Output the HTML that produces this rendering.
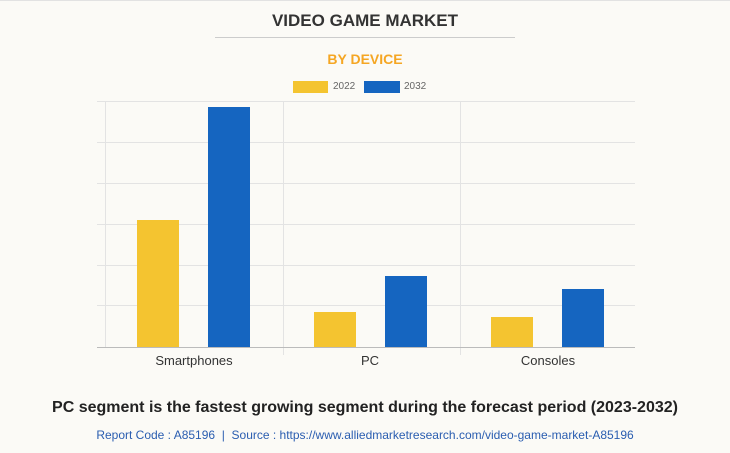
<!DOCTYPE html>
<html><head><style>
body{margin:0;width:730px;height:453px;background:#fbfaf6;font-family:"Liberation Sans",sans-serif;position:relative;overflow:hidden}
.t{position:absolute;left:0;width:730px;text-align:center}
</style></head><body>
<div style="position:absolute;left:0;top:0;width:730px;height:1px;background:#e2e2e2"></div>
<div class="t" style="top:11px;font-size:17px;font-weight:bold;color:#333">VIDEO GAME MARKET</div>
<div style="position:absolute;left:215px;top:37px;width:300px;height:1px;background:#ccc"></div>
<div class="t" style="top:51px;font-size:14px;font-weight:bold;color:#f5a623">BY DEVICE</div>
<div style="position:absolute;left:293px;top:81px;width:35px;height:12px;background:#f4c430"></div>
<div style="position:absolute;left:333px;top:81px;font-size:10px;color:#666">2022</div>
<div style="position:absolute;left:364px;top:81px;width:36px;height:12px;background:#1565c0"></div>
<div style="position:absolute;left:404px;top:81px;font-size:10px;color:#666">2032</div>
<svg style="position:absolute;left:0;top:0" width="730" height="453">
<g stroke="#e3e3e3" stroke-width="1">
<line x1="97" x2="635" y1="101.5" y2="101.5"/><line x1="97" x2="635" y1="142.5" y2="142.5"/>
<line x1="97" x2="635" y1="183.5" y2="183.5"/><line x1="97" x2="635" y1="224.5" y2="224.5"/>
<line x1="97" x2="635" y1="265.5" y2="265.5"/><line x1="97" x2="635" y1="305.5" y2="305.5"/>
<line x1="105.5" x2="105.5" y1="101" y2="347"/><line x1="283.5" x2="283.5" y1="101" y2="355"/>
<line x1="460.5" x2="460.5" y1="101" y2="355"/>
</g>
<rect x="137" y="220" width="42" height="127" fill="#f4c430"/>
<rect x="208" y="107" width="42" height="240" fill="#1565c0"/>
<rect x="314" y="312" width="42" height="35" fill="#f4c430"/>
<rect x="385" y="276" width="42" height="71" fill="#1565c0"/>
<rect x="491" y="317" width="42" height="30" fill="#f4c430"/>
<rect x="562" y="289" width="42" height="58" fill="#1565c0"/>
<line x1="97" x2="635" y1="347.5" y2="347.5" stroke="#bbb"/>
<g font-size="13" fill="#333" text-anchor="middle" font-family="Liberation Sans,sans-serif">
<text x="194" y="365">Smartphones</text><text x="370" y="365">PC</text><text x="548" y="365">Consoles</text>
</g>
</svg>
<div class="t" style="top:399px;font-size:16px;font-weight:bold;color:#222">PC segment is the fastest growing segment during the forecast period (2023-2032)</div>
<div class="t" style="top:428px;font-size:12px;color:#2a5db0">Report Code : A85196 &nbsp;|&nbsp; Source : https://www.alliedmarketresearch.com/video-game-market-A85196</div>
</body></html>
